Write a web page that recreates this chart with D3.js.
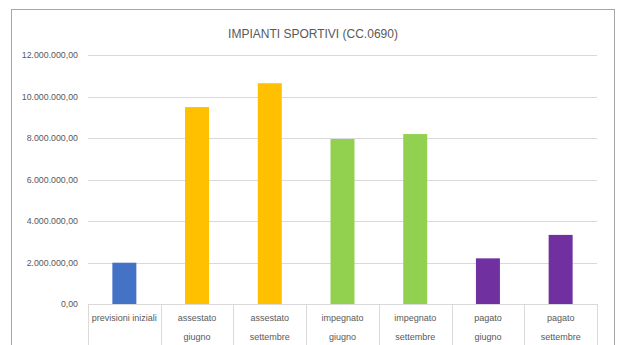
<!DOCTYPE html>
<html><head><meta charset="utf-8">
<script src="https://cdn.jsdelivr.net/npm/d3@7"></script>
<style>body{margin:0;background:#fff}svg{display:block}</style>
</head><body><svg id="c" width="617" height="345"></svg>
<script>
const title = "IMPIANTI SPORTIVI (CC.0690)";
const categories = [["previsioni iniziali"],["assestato","giugno"],["assestato","settembre"],["impegnato","giugno"],["impegnato","settembre"],["pagato","giugno"],["pagato","settembre"]];
const values = [1990000, 9490000, 10640000, 7950000, 8190000, 2200000, 3330000];
const colors = ["#4472C4","#FFC000","#FFC000","#92D050","#92D050","#7030A0","#7030A0"];
const yTicks = [0,2000000,4000000,6000000,8000000,10000000,12000000];

const svg = d3.select("#c");
const font = "'Liberation Sans', Arial, sans-serif";
svg.append("rect").attr("x",11.5).attr("y",9.5).attr("width",603).attr("height",345).attr("fill","#fff").attr("stroke","#a6a6a6");
svg.append("text").attr("x",313).attr("y",38).attr("text-anchor","middle").attr("font-family",font).attr("font-size",12).attr("fill","#595959").text(title);

const x = d3.scaleBand().domain(d3.range(categories.length)).range([88,597]).paddingInner(0).paddingOuter(0);
const y = d3.scaleLinear().domain([0,12000000]).range([304,55]);
const fmt = v => { const s = d3.format(",.2f")(v); return s.replace(/,/g,"#").replace(".",",").replace(/#/g,"."); };

const g = svg.append("g");
g.selectAll("line.grid").data(yTicks.filter(d=>d>0)).join("line").attr("x1",88).attr("x2",597)
 .attr("y1",d=>Math.round(y(d))+0.5).attr("y2",d=>Math.round(y(d))+0.5).attr("stroke","#d9d9d9");
g.selectAll("text.yl").data(yTicks).join("text").attr("x",78).attr("y",d=>y(d)+3).attr("text-anchor","end")
 .attr("font-family",font).attr("font-size",8.8).attr("fill","#595959").text(fmt);

const bw = x.bandwidth()*0.33;
g.selectAll("rect.bar").data(values).join("rect")
 .attr("x",(d,i)=>x(i)+x.bandwidth()/2-bw/2).attr("width",bw)
 .attr("y",d=>y(d)).attr("height",d=>y(0)-y(d)).attr("fill",(d,i)=>colors[i]);

g.append("line").attr("x1",88).attr("x2",597).attr("y1",304.5).attr("y2",304.5).attr("stroke","#d9d9d9");
g.selectAll("line.cat").data(d3.range(categories.length+1)).join("line")
 .attr("x1",i=>Math.round(i<categories.length?x(i):x.range()[1])+0.5).attr("x2",i=>Math.round(i<categories.length?x(i):x.range()[1])+0.5)
 .attr("y1",304).attr("y2",345).attr("stroke","#d9d9d9");
categories.forEach((lines,i)=>{
  lines.forEach((t,j)=>{
    g.append("text").attr("x",x(i)+x.bandwidth()/2).attr("y",321+j*19).attr("text-anchor","middle")
     .attr("font-family",font).attr("font-size",9).attr("fill","#595959").text(t);
  });
});
</script></body></html>
